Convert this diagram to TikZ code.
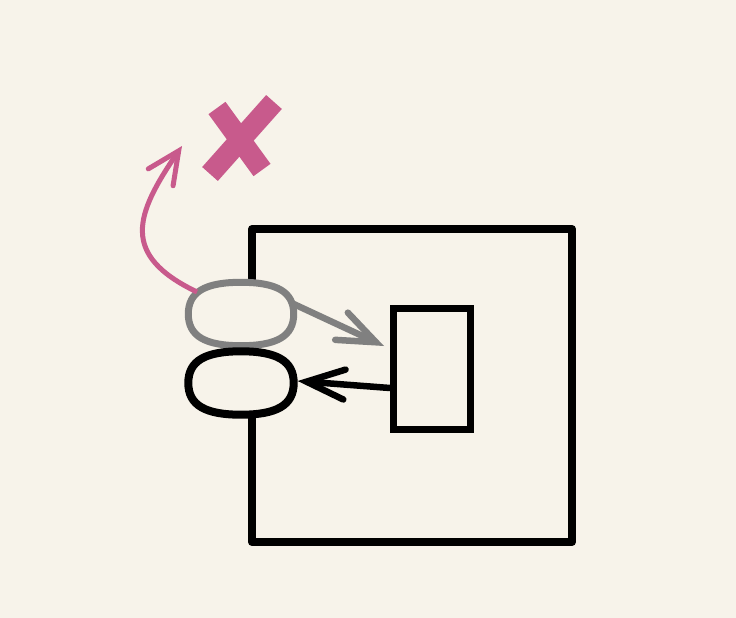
\documentclass[tikz,border=0pt]{standalone}
\usetikzlibrary{arrows.meta,calc}
\definecolor{bg}{HTML}{F7F3EA}
\definecolor{pinkc}{HTML}{C85A8C}
\definecolor{grayc}{HTML}{808080}
\newcommand{\portpath}[1]{%
  ($(#1.east)$) .. controls ($(#1.east)+(0,-22)$) and ($(#1.north)+(36,0)$) .. ($(#1.north)$)
  .. controls ($(#1.north)+(-36,0)$) and ($(#1.west)+(0,-22)$) .. ($(#1.west)$)
  .. controls ($(#1.west)+(0,22)$) and ($(#1.south)+(-36,0)$) .. ($(#1.south)$)
  .. controls ($(#1.south)+(36,0)$) and ($(#1.east)+(0,22)$) .. ($(#1.east)$) -- cycle}
\begin{document}
\begin{tikzpicture}[x=1pt,y=-1pt,
  chev/.style={-{Straight Barb[length=38pt,width=30pt,line width=6.5pt,line cap=round]}},
  pchev/.style={-{Straight Barb[length=32pt,width=30pt,line width=5pt,line cap=round]}},
  thickline/.style={line width=8pt,line join=round,line cap=round},
  port/.style={minimum width=105pt,minimum height=63pt,inner sep=0pt}]
\fill[bg] (0,0) rectangle (736,618);
\useasboundingbox (0,0) rectangle (736,618);
% big square with gap on left side
\draw[thickline,black] (252,286) -- (252,229) -- (572,229) -- (572,542) -- (252,542) -- (252,414);
% inner rectangle
\node[draw,line width=7pt,minimum width=77pt,minimum height=121pt,inner sep=0pt] (rect) at (432,369) {};
% ports
\node[port] (ge) at (241,314) {};
\node[port] (be) at (241,383) {};
\filldraw[draw=grayc,fill=bg,line width=7pt] \portpath{ge};
\filldraw[draw=black,fill=bg,line width=8pt] \portpath{be};
% arrows
\coordinate (gtip) at (384,346);
\draw[grayc,line width=6.5pt,chev] ([yshift=10pt]ge.east) -- (gtip);
\draw[black,line width=6.5pt,chev] (rect.west |- 0,388) -- ([xshift=4pt,yshift=2pt]be.east);
% pink curved arrow
\coordinate (pstart) at (197,292);
\coordinate (ptip) at (182,146);
\draw[pinkc,line width=5pt,pchev] (pstart) .. controls (120,255) and (135,215) .. (ptip);
% X mark
\draw[pinkc,line width=21pt] (217,108) -- (262,170);
\draw[pinkc,line width=21pt] (274,102) -- (210,174);
\end{tikzpicture}
\end{document}
